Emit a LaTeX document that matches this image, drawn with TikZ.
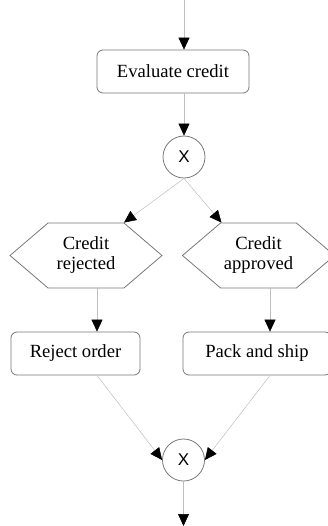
\documentclass[tikz,border=0pt]{standalone}
\usepackage{fontspec}
\setmainfont{Liberation Serif}
\newfontfamily\gatefont{Liberation Sans}
\usepackage{tikz}
\usetikzlibrary{arrows.meta,calc,shapes.symbols}
\definecolor{edgegray}{RGB}{190,190,190}
\definecolor{bordergray}{RGB}{120,120,120}

\begin{document}
\begin{tikzpicture}[
  x=1pt, y=-1pt,
  task/.style={draw=bordergray, line width=0.8pt, rounded corners=6pt,
    minimum height=43pt, inner sep=0pt, font=\fontsize{18.6}{20.5}\selectfont},
  event/.style={draw=bordergray, line width=0.8pt, signal, signal to=east and west,
    signal pointer angle=81, minimum width=152pt, minimum height=65pt,
    inner sep=0pt, align=center, font=\fontsize{18.6}{20}\selectfont},
  gate/.style={draw=bordergray, line width=0.8pt, circle, minimum size=42pt,
    inner sep=0pt, font=\gatefont\fontsize{17}{17}\selectfont},
  flow/.style={draw=edgegray, line width=0.5pt,
    -{Triangle[length=12pt, width=11pt, black]}}
]
\useasboundingbox (0,0) rectangle (328,526);
\coordinate (start) at (184,0);
\coordinate (finish) at (183.5,526);
\node[task, minimum width=152pt] (evaluate) at (173,71.5) {Evaluate credit};
\node[gate] (split) at (184,157) {X};
\node[event] (rejected) at (86,255.5) {Credit\\rejected};
\node[event] (approved) at (258.5,255.5) {Credit\\approved};
\node[task, minimum width=129pt] (reject) at (75.5,353.5) {Reject order};
\node[task, minimum width=148pt] (ship) at (257,353.5) {Pack and ship};
\node[gate] (merge) at (183.5,460) {X};
% ports on the sides of the shapes
\coordinate (rejtop) at ($(rejected.north)+(38,0)$);
\coordinate (apptop) at ($(approved.north)+(-37,0)$);
\coordinate (rejout) at ($(rejected.south)+(11,0)$);
\coordinate (appout) at ($(approved.south)+(11.5,0)$);
\coordinate (rejend) at ($(reject.south)+(21.5,0)$);
\coordinate (shipend) at ($(ship.south)+(13,0)$);
\draw[flow] (start) -- (start |- evaluate.north);
\draw[flow] (split |- evaluate.south) -- (split.north);
\draw[flow] (split.south) -- (rejtop);
\draw[flow] (split.south) -- (apptop);
\draw[flow] (rejout) -- (rejout |- reject.north);
\draw[flow] (appout) -- (appout |- ship.north);
\draw[flow] (rejend) -- (merge.west);
\draw[flow] (shipend) -- (merge.east);
\draw[flow] (merge.south) -- (finish);
\end{tikzpicture}
\end{document}
